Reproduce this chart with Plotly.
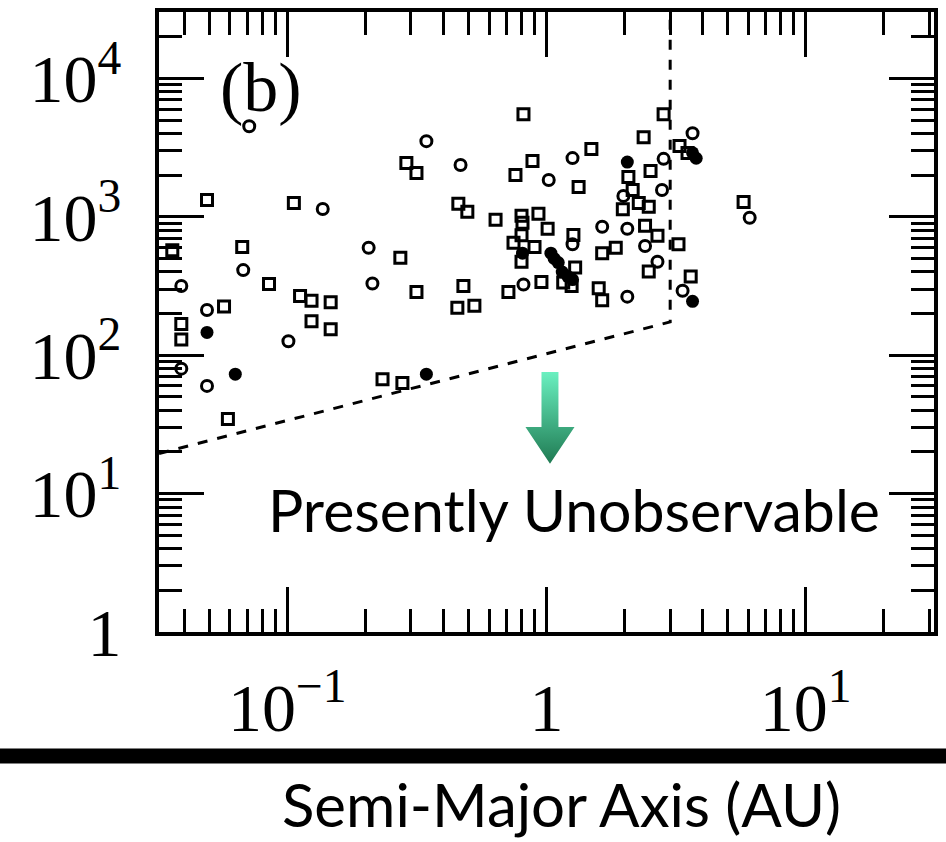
import plotly.graph_objects as go

# Planet masses (M sin i, Earth masses) versus semi-major axis (AU)
rect_a = [0.049, 0.106, 0.036, 0.067, 0.085, 0.112, 0.124, 0.147, 0.057, 0.124,
          0.147, 0.039, 0.039, 0.059, 0.288, 0.315, 0.273, 0.315, 0.233, 0.278,
          0.815, 0.883, 1.49, 0.759, 1.33, 0.457, 0.495, 0.636, 0.801, 0.808,
          0.931, 1.01, 0.801, 0.746, 0.899, 0.801, 1.27, 1.64, 1.85, 1.29,
          1.16, 1.25, 0.478, 0.713, 0.956, 1.59, 1.64, 0.453, 0.527, 2.83,
          2.37, 3.26, 3.50, 2.52, 2.07, 2.15, 1.97, 2.27, 2.48, 2.40,
          2.68, 3.23, 2.48, 3.60, 5.76]
rect_m = [1325, 1260, 574, 604, 327, 268, 247, 241, 225, 176,
          154, 168, 130, 34.6, 2445, 2074, 507, 286, 67, 63,
          5508, 2529, 3085, 2005, 1644, 1241, 1086, 951, 1017, 906,
          1051, 820, 736, 650, 604, 474, 740, 546, 598, 430,
          335, 316, 316, 286, 338, 305, 250, 220, 228, 5508,
          3765, 3243, 2886, 2143, 1940, 1564, 1133, 1261, 1180, 861,
          731, 634, 403, 370, 1282]

ring_a = [0.0713, 0.137, 0.0676, 0.039, 0.049, 0.101, 0.039, 0.049, 0.206, 0.213,
          0.344, 0.466, 1.26, 1.02, 1.26, 0.815, 2.05, 3.66, 2.83, 2.79,
          1.98, 1.64, 2.05, 2.40, 2.68, 3.35, 6.08]
ring_m = [4517, 1140, 412, 316, 212, 126, 80, 60, 598, 330,
          3523, 2366, 2656, 1846, 634, 324, 265, 4021, 2623, 1564,
          1416, 847, 820, 615, 474, 292, 984]

solid_a = [0.049, 0.063, 0.344, 0.808, 1.04, 1.07, 1.11, 1.15, 1.21, 1.26,
           3.66, 3.78, 2.05, 3.66]
solid_m = [146, 73, 73, 546, 546, 500, 467, 399, 370, 352,
           2900, 2650, 2488, 245]

# Detection limit: sqrt(a) scaling out to the 3 AU baseline cut-off
limit_a = [0.032, 3.0, 3.0]
limit_m = [19.5, 174, 30000]

x_tickvals = [0.1, 1, 10]
x_ticktext = ["10<sup>\u22121</sup>", "1", "10<sup>1</sup>"]
y_tickvals = [1, 10, 100, 1000, 10000]
y_ticktext = ["1", "10<sup>1</sup>", "10<sup>2</sup>", "10<sup>3</sup>", "10<sup>4</sup>"]

x_minor = [m * 10.0 ** e for e in range(-2, 2) for m in range(2, 10)]
y_minor = [m * 10.0 ** e for e in range(0, 5) for m in range(2, 10)]

# Down arrow into the unobservable region (AU, Earth masses)
arrow_a = [0.9565, 1.112, 1.112, 1.2826, 1.0316, 0.8296, 0.9565, 0.9565]
arrow_m = [75.5, 75.5, 30.3, 30.3, 16.4, 30.3, 30.3, 75.5]

fig = go.Figure()

fig.add_trace(go.Scatter(
    x=limit_a, y=limit_m, mode="lines",
    line=dict(color="black", width=3, dash="10px,10px"),
    hoverinfo="skip"))

fig.add_trace(go.Scatter(
    x=rect_a, y=rect_m, mode="markers",
    marker=dict(symbol="square-open", size=11, color="black",
                line=dict(width=3, color="black"))))

fig.add_trace(go.Scatter(
    x=ring_a, y=ring_m, mode="markers",
    marker=dict(symbol="circle-open", size=11, color="black",
                line=dict(width=3, color="black"))))

fig.add_trace(go.Scatter(
    x=solid_a, y=solid_m, mode="markers",
    marker=dict(symbol="circle", size=13, color="black")))

fig.add_trace(go.Scatter(
    x=arrow_a, y=arrow_m, mode="lines", fill="toself",
    line=dict(width=0, color="rgba(0,0,0,0)"),
    fillgradient=dict(type="vertical",
                      colorscale=[[0, "#1F7A52"], [1, "#6AF0C0"]]),
    hoverinfo="skip"))

tick_font = dict(family="Liberation Serif", size=68, color="black")

common = dict(
    type="log", showgrid=False, zeroline=False,
    showline=True, linewidth=4, linecolor="black", mirror="ticks",
    ticks="inside", ticklen=45, tickwidth=3, tickcolor="black",
    tickfont=tick_font, tickmode="array",
)

fig.update_xaxes(
    **common, range=[-1.495, 1.495],
    tickvals=x_tickvals, ticktext=x_ticktext, ticklabelstandoff=13,
    minor=dict(tickmode="array", tickvals=x_minor, ticks="inside",
               ticklen=23, tickwidth=3, tickcolor="black", showgrid=False))
fig.update_yaxes(
    **common, range=[0, 4.48],
    tickvals=y_tickvals, ticktext=y_ticktext, ticklabelstandoff=20,
    minor=dict(tickmode="array", tickvals=y_minor, ticks="inside",
               ticklen=23, tickwidth=3, tickcolor="black", showgrid=False))

fig.add_annotation(
    text="(b)", xref="paper", yref="paper", x=0.131, y=0.879,
    xanchor="center", yanchor="middle",
    showarrow=False, font=dict(family="Liberation Serif", size=70, color="black"))

fig.add_annotation(
    text="Presently Unobservable", xref="paper", yref="paper", x=0.535, y=0.198,
    xanchor="center", yanchor="middle",
    showarrow=False, font=dict(family="Lato", size=59, color="black"))

fig.add_annotation(
    text="Semi-Major Axis (AU)", xref="paper", yref="paper", x=0.519, y=-0.277,
    xanchor="center", yanchor="middle",
    showarrow=False, font=dict(family="Lato", size=60, color="black"))

fig.add_shape(type="line", xref="paper", yref="paper",
              x0=-0.25, x1=1.05, y0=-0.2002, y1=-0.2002,
              line=dict(color="black", width=15))

fig.update_layout(
    width=946, height=842,
    margin=dict(l=159, r=8, t=10, b=210),
    paper_bgcolor="white", plot_bgcolor="white",
    showlegend=False,
)

fig.write_html("out.html")
